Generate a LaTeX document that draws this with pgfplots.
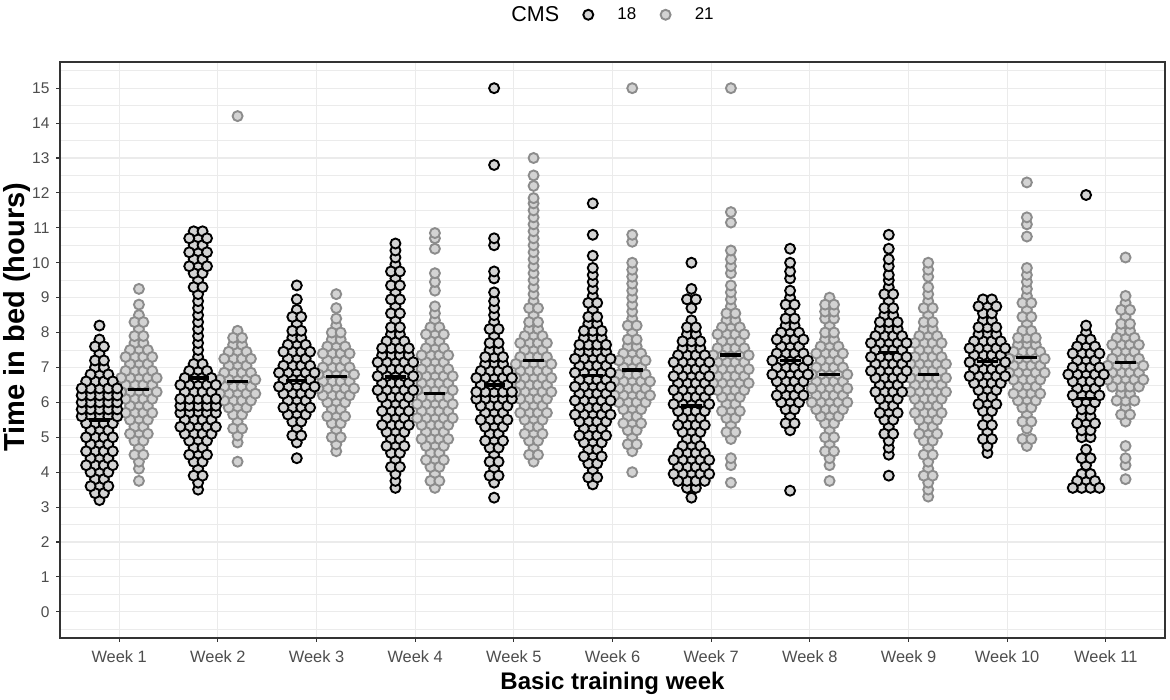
\documentclass[border=0pt]{standalone}
\usepackage{pgfplots}
\usepackage{pgfplotstable}
\pgfplotsset{compat=1.18}
\usepackage{fontspec}
\setmainfont{Liberation Sans}
\definecolor{grey92}{RGB}{235,235,235}
\definecolor{grey20}{RGB}{51,51,51}
\definecolor{grey30}{RGB}{77,77,77}
\definecolor{ptfill}{RGB}{211,211,211}
\definecolor{ptgray}{RGB}{140,140,140}

% CMS 18: week, level (hours), number of points side by side at that level
\pgfplotstableread[row sep=\\]{
w y n\\
1 3.2 1\\1 3.4 2\\1 3.6 3\\1 3.8 2\\1 4.0 3\\1 4.2 4\\1 4.4 3\\1 4.6 4\\1 4.8 3\\1 5.0 4\\1 5.2 3\\1 5.4 4\\1 5.6 5\\1 5.8 5\\1 6.0 5\\1 6.2 5\\1 6.4 5\\1 6.6 4\\1 6.8 3\\1 7.0 2\\1 7.2 2\\1 7.4 1\\1 7.6 2\\1 7.8 1\\1 8.2 1\\
2 3.5 1\\2 3.7 1\\2 3.9 2\\2 4.1 1\\2 4.3 2\\2 4.5 3\\2 4.7 2\\2 4.9 3\\2 5.1 4\\2 5.3 5\\2 5.5 4\\2 5.7 5\\2 5.9 5\\2 6.1 5\\2 6.3 4\\2 6.5 5\\2 6.7 4\\2 6.9 3\\2 7.1 2\\2 7.3 1\\2 7.5 1\\2 7.7 1\\2 7.9 1\\2 8.1 1\\2 8.3 1\\2 8.5 1\\2 8.7 1\\2 8.9 1\\2 9.1 1\\2 9.3 2\\2 9.5 1\\2 9.7 2\\2 9.9 3\\2 10.1 2\\2 10.3 3\\2 10.5 2\\2 10.7 3\\2 10.9 2\\
3 4.4 1\\3 4.85 1\\3 5.05 2\\3 5.25 1\\3 5.45 2\\3 5.65 3\\3 5.85 4\\3 6.05 3\\3 6.25 4\\3 6.45 5\\3 6.65 4\\3 6.85 5\\3 7.05 4\\3 7.25 3\\3 7.45 4\\3 7.65 3\\3 7.85 2\\3 8.05 2\\3 8.25 1\\3 8.45 2\\3 8.65 1\\3 8.95 1\\3 9.35 1\\
4 3.55 1\\4 3.75 1\\4 3.95 1\\4 4.15 2\\4 4.35 1\\4 4.55 2\\4 4.75 3\\4 4.95 2\\4 5.15 3\\4 5.35 4\\4 5.55 3\\4 5.75 4\\4 5.95 3\\4 6.15 4\\4 6.35 5\\4 6.55 4\\4 6.75 5\\4 6.95 4\\4 7.15 5\\4 7.35 4\\4 7.55 4\\4 7.75 3\\4 7.95 2\\4 8.15 2\\4 8.35 1\\4 8.55 2\\4 8.75 1\\4 8.95 2\\4 9.15 1\\4 9.35 2\\4 9.55 1\\4 9.75 2\\4 9.95 1\\4 10.15 1\\4 10.35 1\\4 10.55 1\\
5 3.27 1\\5 3.7 1\\5 3.9 2\\5 4.1 1\\5 4.3 2\\5 4.5 1\\5 4.7 2\\5 4.9 3\\5 5.1 2\\5 5.3 3\\5 5.5 4\\5 5.7 3\\5 5.9 4\\5 6.1 5\\5 6.3 5\\5 6.5 4\\5 6.7 5\\5 6.9 4\\5 7.1 3\\5 7.3 3\\5 7.5 2\\5 7.7 2\\5 7.9 1\\5 8.1 2\\5 8.3 1\\5 8.5 1\\5 8.7 1\\5 8.9 1\\5 9.15 1\\5 9.55 1\\5 9.75 1\\5 10.5 1\\5 10.7 1\\5 12.8 1\\5 15 1\\
6 3.65 1\\6 3.85 2\\6 4.05 1\\6 4.25 2\\6 4.45 3\\6 4.65 2\\6 4.85 3\\6 5.05 4\\6 5.25 3\\6 5.45 4\\6 5.65 5\\6 5.85 4\\6 6.05 5\\6 6.25 4\\6 6.45 5\\6 6.65 4\\6 6.85 5\\6 7.05 4\\6 7.25 5\\6 7.45 4\\6 7.65 4\\6 7.85 3\\6 8.05 3\\6 8.25 2\\6 8.45 2\\6 8.65 1\\6 8.85 2\\6 9.05 1\\6 9.25 1\\6 9.45 1\\6 9.65 1\\6 9.85 1\\6 10.2 1\\6 10.8 1\\6 11.7 1\\
7 3.27 1\\7 3.55 2\\7 3.75 4\\7 3.95 5\\7 4.15 4\\7 4.35 5\\7 4.55 4\\7 4.75 3\\7 4.95 2\\7 5.15 3\\7 5.35 4\\7 5.55 3\\7 5.75 4\\7 5.95 5\\7 6.15 4\\7 6.35 5\\7 6.55 4\\7 6.75 5\\7 6.95 4\\7 7.15 5\\7 7.35 4\\7 7.55 3\\7 7.75 3\\7 7.95 2\\7 8.15 2\\7 8.35 1\\7 8.7 1\\7 8.95 2\\7 9.25 1\\7 10.0 1\\
8 3.47 1\\8 5.2 1\\8 5.4 2\\8 5.6 1\\8 5.8 2\\8 6.0 3\\8 6.2 4\\8 6.4 3\\8 6.6 4\\8 6.8 5\\8 7.0 4\\8 7.2 5\\8 7.4 4\\8 7.6 3\\8 7.8 4\\8 8.0 3\\8 8.2 2\\8 8.4 2\\8 8.6 1\\8 8.8 2\\8 9.0 1\\8 9.2 1\\8 9.55 1\\8 9.75 1\\8 10.0 1\\8 10.4 1\\
9 3.9 1\\9 4.5 1\\9 4.7 1\\9 4.9 1\\9 5.1 2\\9 5.3 1\\9 5.5 2\\9 5.7 3\\9 5.9 2\\9 6.1 3\\9 6.3 4\\9 6.5 3\\9 6.7 4\\9 6.9 5\\9 7.1 4\\9 7.3 5\\9 7.5 4\\9 7.7 5\\9 7.9 4\\9 8.1 3\\9 8.3 3\\9 8.5 2\\9 8.7 2\\9 8.9 1\\9 9.1 2\\9 9.3 1\\9 9.5 1\\9 9.65 1\\9 9.9 1\\9 10.1 1\\9 10.4 1\\9 10.8 1\\
10 4.55 1\\10 4.75 1\\10 4.95 2\\10 5.15 1\\10 5.35 2\\10 5.55 1\\10 5.75 2\\10 5.95 3\\10 6.15 2\\10 6.35 3\\10 6.55 4\\10 6.75 5\\10 6.95 4\\10 7.15 5\\10 7.35 4\\10 7.55 5\\10 7.75 4\\10 7.95 3\\10 8.15 3\\10 8.35 2\\10 8.55 2\\10 8.75 3\\10 8.95 2\\
11 3.55 4\\11 3.75 3\\11 3.95 2\\11 4.2 1\\11 4.4 2\\11 4.65 1\\11 5.0 2\\11 5.2 2\\11 5.4 3\\11 5.6 2\\11 5.8 2\\11 6.0 3\\11 6.2 4\\11 6.4 3\\11 6.6 4\\11 6.8 5\\11 7.0 4\\11 7.2 3\\11 7.4 4\\11 7.6 3\\11 7.8 2\\11 8.0 1\\11 8.2 1\\11 11.94 1\\
}\tblA

% CMS 21
\pgfplotstableread[row sep=\\]{
w y n\\
1 3.75 1\\1 4.1 1\\1 4.3 1\\1 4.5 2\\1 4.7 1\\1 4.9 2\\1 5.1 3\\1 5.3 2\\1 5.5 3\\1 5.7 4\\1 5.9 3\\1 6.1 4\\1 6.3 5\\1 6.5 4\\1 6.7 5\\1 6.9 4\\1 7.1 3\\1 7.3 4\\1 7.5 3\\1 7.7 2\\1 7.9 2\\1 8.1 1\\1 8.3 2\\1 8.5 1\\1 8.8 1\\1 9.25 1\\
2 4.3 1\\2 4.85 1\\2 5.05 1\\2 5.25 2\\2 5.45 1\\2 5.65 2\\2 5.85 3\\2 6.05 4\\2 6.25 5\\2 6.45 4\\2 6.65 5\\2 6.85 4\\2 7.05 3\\2 7.25 4\\2 7.45 3\\2 7.65 2\\2 7.85 2\\2 8.05 1\\2 14.2 1\\
3 4.6 1\\3 4.8 1\\3 5.0 2\\3 5.2 1\\3 5.4 2\\3 5.6 3\\3 5.8 2\\3 6.0 3\\3 6.2 4\\3 6.4 5\\3 6.6 4\\3 6.8 5\\3 7.0 4\\3 7.2 3\\3 7.4 4\\3 7.6 3\\3 7.8 2\\3 8.0 2\\3 8.2 1\\3 8.4 1\\3 8.7 1\\3 9.1 1\\
4 3.55 1\\4 3.75 2\\4 3.95 1\\4 4.15 2\\4 4.35 3\\4 4.55 2\\4 4.75 3\\4 4.95 4\\4 5.15 3\\4 5.35 4\\4 5.55 5\\4 5.75 4\\4 5.95 5\\4 6.15 4\\4 6.35 5\\4 6.55 4\\4 6.75 5\\4 6.95 4\\4 7.15 3\\4 7.35 4\\4 7.55 3\\4 7.75 2\\4 7.95 3\\4 8.15 2\\4 8.35 1\\4 8.55 1\\4 8.75 1\\4 9.2 1\\4 9.45 1\\4 9.7 1\\4 10.4 1\\4 10.7 1\\4 10.85 1\\
5 4.3 1\\5 4.5 2\\5 4.7 1\\5 4.9 2\\5 5.1 3\\5 5.3 2\\5 5.5 3\\5 5.7 4\\5 5.9 3\\5 6.1 4\\5 6.3 5\\5 6.5 4\\5 6.7 5\\5 6.9 4\\5 7.1 5\\5 7.3 4\\5 7.5 3\\5 7.7 4\\5 7.9 3\\5 8.1 2\\5 8.3 2\\5 8.5 1\\5 8.7 2\\5 8.9 1\\5 9.1 1\\5 9.3 1\\5 9.5 1\\5 9.7 1\\5 9.9 1\\5 10.1 1\\5 10.3 1\\5 10.5 1\\5 10.7 1\\5 10.9 1\\5 11.1 1\\5 11.3 1\\5 11.5 1\\5 11.7 1\\5 11.85 1\\5 12.2 1\\5 12.5 1\\5 13.0 1\\
6 4.0 1\\6 4.6 1\\6 4.8 2\\6 5.0 1\\6 5.2 2\\6 5.4 3\\6 5.6 2\\6 5.8 3\\6 6.0 4\\6 6.2 5\\6 6.4 4\\6 6.6 5\\6 6.8 4\\6 7.0 3\\6 7.2 4\\6 7.4 3\\6 7.6 2\\6 7.8 2\\6 8.0 1\\6 8.2 2\\6 8.4 1\\6 8.6 1\\6 8.8 1\\6 9.0 1\\6 9.2 1\\6 9.4 1\\6 9.6 1\\6 9.8 1\\6 10.0 1\\6 10.6 1\\6 10.8 1\\6 15 1\\
7 3.7 1\\7 4.2 1\\7 4.4 1\\7 4.95 1\\7 5.15 2\\7 5.35 1\\7 5.55 2\\7 5.75 3\\7 5.95 2\\7 6.15 3\\7 6.35 4\\7 6.55 5\\7 6.75 4\\7 6.95 5\\7 7.15 4\\7 7.35 5\\7 7.55 4\\7 7.75 3\\7 7.95 4\\7 8.15 3\\7 8.35 2\\7 8.55 2\\7 8.75 1\\7 8.95 1\\7 9.15 1\\7 9.35 1\\7 9.7 1\\7 9.9 1\\7 10.1 1\\7 10.35 1\\7 11.15 1\\7 11.45 1\\7 15 1\\
8 3.75 1\\8 4.2 1\\8 4.4 1\\8 4.6 2\\8 4.8 1\\8 5.0 2\\8 5.2 1\\8 5.4 2\\8 5.6 3\\8 5.8 4\\8 6.0 5\\8 6.2 4\\8 6.4 5\\8 6.6 4\\8 6.8 5\\8 7.0 4\\8 7.2 3\\8 7.4 4\\8 7.6 3\\8 7.8 2\\8 8.0 2\\8 8.2 1\\8 8.4 2\\8 8.6 2\\8 8.8 2\\8 9.0 1\\
9 3.3 1\\9 3.5 1\\9 3.7 1\\9 3.9 2\\9 4.1 1\\9 4.3 1\\9 4.5 2\\9 4.7 1\\9 4.9 2\\9 5.1 3\\9 5.3 2\\9 5.5 3\\9 5.7 4\\9 5.9 3\\9 6.1 4\\9 6.3 5\\9 6.5 4\\9 6.7 5\\9 6.9 4\\9 7.1 5\\9 7.3 4\\9 7.5 3\\9 7.7 4\\9 7.9 3\\9 8.1 2\\9 8.3 2\\9 8.5 1\\9 8.7 2\\9 8.9 1\\9 9.1 1\\9 9.3 1\\9 9.6 1\\9 9.8 1\\9 10.0 1\\
10 4.75 1\\10 4.95 2\\10 5.25 1\\10 5.45 2\\10 5.65 1\\10 5.85 2\\10 6.05 3\\10 6.25 4\\10 6.45 3\\10 6.65 4\\10 6.85 5\\10 7.05 4\\10 7.25 5\\10 7.45 4\\10 7.65 3\\10 7.85 3\\10 8.05 2\\10 8.25 1\\10 8.45 2\\10 8.65 1\\10 8.85 2\\10 9.05 1\\10 9.25 1\\10 9.45 1\\10 9.65 1\\10 9.85 1\\10 10.75 1\\10 11.1 1\\10 11.3 1\\10 12.3 1\\
11 3.8 1\\11 4.2 1\\11 4.4 1\\11 4.75 1\\11 5.45 1\\11 5.65 2\\11 5.85 1\\11 6.05 3\\11 6.25 2\\11 6.45 4\\11 6.65 5\\11 6.85 4\\11 7.05 5\\11 7.25 4\\11 7.45 3\\11 7.65 4\\11 7.85 3\\11 8.05 2\\11 8.25 2\\11 8.45 1\\11 8.65 2\\11 8.85 1\\11 9.05 1\\11 10.15 1\\
}\tblB

% medians
\pgfplotstableread[row sep=\\]{
w m18 m21\\
1 5.5 6.37\\2 6.7 6.6\\3 6.63 6.74\\4 6.72 6.25\\5 6.5 7.2\\6 6.77 6.92\\7 5.9 7.35\\8 7.2 6.8\\9 7.43 6.8\\10 7.17 7.29\\11 6.11 7.14\\
}\tblM

\pgfplotsset{
  blk/.style={only marks, mark=*, mark size=5bp, mark options={draw=black, fill=ptfill, line width=1.9bp, solid}, forget plot},
  gry/.style={only marks, mark=*, mark size=5bp, mark options={draw=ptgray, fill=ptfill, line width=1.9bp, solid}, forget plot},
  lgimg/.style={legend image code/.code={\path (-8bp,0bp) (27bp,0bp); \draw[##1] plot coordinates {(0bp,0bp)};}},
}

\newcommand{\swarm}[3]{%
\addplot[#2] table[x expr=\thisrow{w}#3, y=y, restrict expr to domain={mod(\thisrow{n},2)}{0.5:1.5}]{#1};
\addplot[#2] table[x expr=\thisrow{w}#3-0.045, y=y, restrict expr to domain={mod(\thisrow{n},2)}{-0.5:0.5}]{#1};
\addplot[#2] table[x expr=\thisrow{w}#3+0.045, y=y, restrict expr to domain={mod(\thisrow{n},2)}{-0.5:0.5}]{#1};
\addplot[#2] table[x expr=\thisrow{w}#3-0.09, y=y, restrict expr to domain={mod(\thisrow{n},2)*\thisrow{n}}{2.5:9}]{#1};
\addplot[#2] table[x expr=\thisrow{w}#3+0.09, y=y, restrict expr to domain={mod(\thisrow{n},2)*\thisrow{n}}{2.5:9}]{#1};
\addplot[#2] table[x expr=\thisrow{w}#3-0.135, y=y, restrict expr to domain={(1-mod(\thisrow{n},2))*\thisrow{n}}{3.5:9}]{#1};
\addplot[#2] table[x expr=\thisrow{w}#3+0.135, y=y, restrict expr to domain={(1-mod(\thisrow{n},2))*\thisrow{n}}{3.5:9}]{#1};
\addplot[#2] table[x expr=\thisrow{w}#3-0.18, y=y, restrict expr to domain={mod(\thisrow{n},2)*\thisrow{n}}{4.5:9}]{#1};
\addplot[#2] table[x expr=\thisrow{w}#3+0.18, y=y, restrict expr to domain={mod(\thisrow{n},2)*\thisrow{n}}{4.5:9}]{#1};
}

\begin{document}
\begin{tikzpicture}
\useasboundingbox (0,0) rectangle (1170bp,700bp);
\begin{axis}[
  at={(60bp,62bp)}, anchor=south west, scale only axis,
  width=1105bp, height=576bp,
  xmin=0.4, xmax=11.6, ymin=-0.75, ymax=15.75,
  xtick={1,2,...,11},
  xticklabels={Week 1,Week 2,Week 3,Week 4,Week 5,Week 6,Week 7,Week 8,Week 9,Week 10,Week 11},
  ytick={0,1,...,15},
  minor ytick={-0.5,0.5,...,15.5},
  grid=both,
  major grid style={draw=grey92, line width=1.1bp},
  minor grid style={draw=grey92, line width=0.7bp},
  axis line style={draw=grey20, line width=1.1bp},
  tick align=outside, major tick length=4bp, minor tick length=0pt,
  tick style={draw=grey20, line width=1.1bp},
  xtick pos=bottom, ytick pos=left,
  yticklabel style={font=\fontsize{15.5bp}{18bp}\selectfont, text=grey30, xshift=-3bp},
  xticklabel style={font=\fontsize{16.4bp}{19bp}\selectfont, text=grey30, yshift=-5bp},
  /pgf/number format/assume math mode=true,
  xlabel={Basic training week},
  ylabel={Time in bed (hours)},
  xlabel style={font=\bfseries\fontsize{24bp}{28bp}\selectfont, text=black, at={(axis description cs:0.5,-0.078)}, anchor=center},
  ylabel style={font=\bfseries\fontsize{29bp}{32bp}\selectfont, text=black, at={(axis description cs:-0.039,0.557)}, anchor=center},
  legend columns=-1,
  legend style={at={(axis description cs:0.5,1.082)}, anchor=center, draw=none, fill=none,
    font=\fontsize{17bp}{20bp}\selectfont,
    /tikz/every even column/.append style={column sep=19bp}},
]
\swarm{\tblB}{gry}{+0.2}
\swarm{\tblA}{blk}{-0.2}
\addplot[only marks, mark=-, mark size=10.5bp, mark options={draw=black, line width=3.6bp}, forget plot]
  table[x expr=\thisrow{w}-0.2, y=m18]{\tblM};
\addplot[only marks, mark=-, mark size=10.5bp, mark options={draw=black, line width=3.6bp}, forget plot]
  table[x expr=\thisrow{w}+0.2, y=m21]{\tblM};
\addlegendimage{empty legend}
\addlegendentry{\fontsize{21.5bp}{24bp}\selectfont CMS}
\addlegendimage{only marks, mark=*, mark size=5bp, mark options={draw=black, fill=ptfill, line width=1.9bp}, lgimg}
\addlegendentry{18}
\addlegendimage{only marks, mark=*, mark size=5bp, mark options={draw=ptgray, fill=ptfill, line width=1.9bp}, lgimg}
\addlegendentry{21}
\end{axis}
\end{tikzpicture}
\end{document}
